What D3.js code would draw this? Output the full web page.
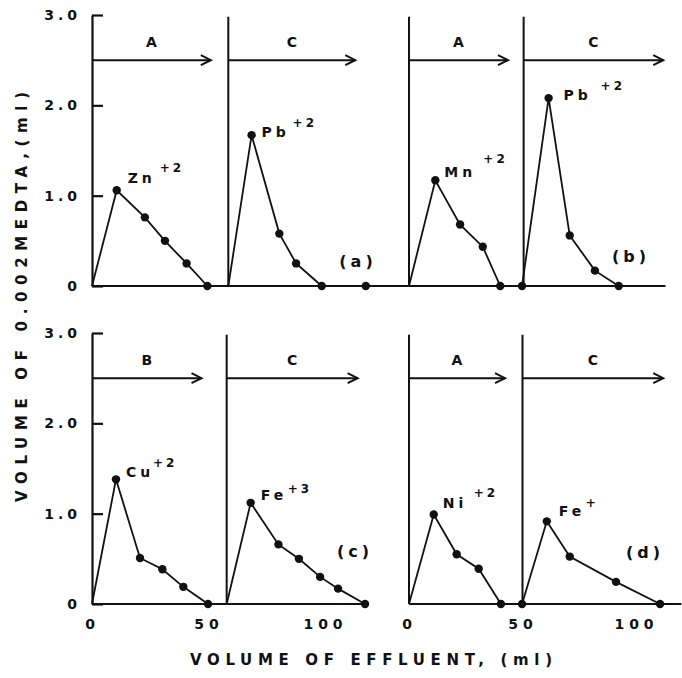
<!DOCTYPE html>
<html>
<head>
<meta charset="utf-8">
<script src="https://cdn.jsdelivr.net/npm/d3@7"></script>
<style>
  body { margin: 0; background: #fff; }
  text { font-family: 'DejaVu Sans', sans-serif; font-weight: bold; fill: #111; }
</style>
</head>
<body>
<div class="chart"></div>
<script>

/** axis ticks */
const yTicks = [0, 1, 2, 3];
const xTicks = [0, 50, 100];

/** eluent bands: [name, start ml, end ml] */
const eluentsA = [['A', 0, 51], ['C', 58.5, 113]];
const eluentsB = [['A', 0, 43.6], ['C', 50.5, 112]];
const eluentsC = [['B', 0, 47], ['C', 57.8, 114]];
const eluentsD = [['A', 0, 42.3], ['C', 50, 112]];

/** elution curves (ml of effluent, ml of 0.002 M EDTA) */
const zn  = { ion: 'Zn', charge: '+2', start: 0,    x: [10.6, 22.7, 31.3, 40.6, 49.5], y: [1.06, 0.76, 0.50, 0.25, 0] };
const pbA = { ion: 'Pb', charge: '+2', start: 58.5, x: [68.5, 80.4, 87.6, 98.6, 117.5], y: [1.67, 0.58, 0.25, 0, 0] };
const mn  = { ion: 'Mn', charge: '+2', start: 0,    x: [11.6, 22.5, 32.5, 40.2], y: [1.17, 0.68, 0.435, 0] };
const pbB = { ion: 'Pb', charge: '+2', start: null, x: [49.8, 61.5, 70.8, 81.9, 92.4], y: [0, 2.08, 0.56, 0.17, 0] };
const cu  = { ion: 'Cu', charge: '+2', start: 0,    x: [10.3, 20.6, 30.2, 39.2, 49.8], y: [1.38, 0.51, 0.385, 0.19, 0] };
const fe3 = { ion: 'Fe', charge: '+3', start: 57.8, x: [68.1, 80, 88.8, 97.9, 105.6, 117.2], y: [1.12, 0.66, 0.50, 0.30, 0.17, 0] };
const ni  = { ion: 'Ni', charge: '+2', start: 0,    x: [10.9, 21, 30.7, 40.5], y: [0.99, 0.55, 0.39, 0] };
const feP = { ion: 'Fe', charge: '+',  start: null, x: [49.8, 60.7, 70.8, 91.2, 110.6], y: [0, 0.915, 0.525, 0.245, 0] };

/** the four panels */
const panels = [
  { tag: '(a)', row: 'top',    col: 'left',  eluents: eluentsA, series: [zn, pbA], axisEnd: 136 },
  { tag: '(b)', row: 'top',    col: 'right', eluents: eluentsB, series: [mn, pbB], axisEnd: 113 },
  { tag: '(c)', row: 'bottom', col: 'left',  eluents: eluentsC, series: [cu, fe3], axisEnd: 118 },
  { tag: '(d)', row: 'bottom', col: 'right', eluents: eluentsD, series: [ni, feP], axisEnd: 120 }
];

/** layout */
const colRange = { left: [92, 325], right: [409, 636] };
const rowRange = { top: [286, 15], bottom: [604, 333] };
const tagPos = [[358, 267], [631, 262], [355, 557], [645, 558]];
// label offsets from the peak point: [ion dx, ion dy, charge dx, charge dy]
const ionOffset = {
  Zn: [11, -7, 43, -18], PbA: [10, 2, 41, -8], Mn: [9, -3, 48, -17], PbB: [15, 2, 52, -8],
  Cu: [10, -2, 37, -12], Fe3: [10, -3, 37, -10], Ni: [9, -7, 40, -18], FeP: [12, -5, 39, -14]
};
const offsetKeys = [['Zn', 'PbA'], ['Mn', 'PbB'], ['Cu', 'Fe3'], ['Ni', 'FeP']];

let width = 682, height = 678;
let svg = d3.select('.chart').append('svg')
    .attr('width', width)
    .attr('height', height);

const ink = '#111';

panels.forEach(function (p, i) {

    let x = d3.scaleLinear().domain([0, 100]).range(colRange[p.col]);
    let y = d3.scaleLinear().domain([0, 3]).range(rowRange[p.row]);
    let g = svg.append('g');

    /** baseline */
    g.append('line')
        .attr('x1', x(0)).attr('x2', x(p.axisEnd))
        .attr('y1', y(0)).attr('y2', y(0))
        .attr('stroke', ink).attr('stroke-width', 2.2);

    /** y axis on the left column, plain divider on the right */
    if (p.col === 'left') {
        let yAxis = g.append('g')
            .attr('transform', 'translate(' + x(0) + ',0)')
            .call(d3.axisLeft(y)
                .tickValues(yTicks)
                .tickSize(-11)
                .tickSizeOuter(0)
                .tickPadding(11)
                .tickFormat(d => d === 0 ? '0' : d.toFixed(1)));
        yAxis.select('.domain').attr('stroke', ink).attr('stroke-width', 2.2);
        yAxis.selectAll('.tick line').attr('stroke', ink).attr('stroke-width', 2.2);
        yAxis.selectAll('.tick text')
            .style('font-size', '14px')
            .style('letter-spacing', '4px')
            .attr('fill', ink);
    } else {
        g.append('line')
            .attr('x1', x(0)).attr('x2', x(0))
            .attr('y1', y(0)).attr('y2', y(2.98))
            .attr('stroke', ink).attr('stroke-width', 2);
    }

    /** divider where the second eluent begins */
    let second = p.eluents[1];
    g.append('line')
        .attr('x1', x(second[1])).attr('x2', x(second[1]))
        .attr('y1', y(0)).attr('y2', y(2.98))
        .attr('stroke', ink).attr('stroke-width', 2);

    /** eluent arrows */
    p.eluents.forEach(function (e) {
        let x0 = x(e[1]), x1 = x(e[2]), ya = y(2.5);
        g.append('line')
            .attr('x1', x0).attr('x2', x1)
            .attr('y1', ya).attr('y2', ya)
            .attr('stroke', ink).attr('stroke-width', 2);
        g.append('path')
            .attr('d', 'M' + (x1 - 10) + ',' + (ya - 5) + 'L' + x1 + ',' + ya + 'L' + (x1 - 10) + ',' + (ya + 5))
            .attr('fill', 'none').attr('stroke', ink).attr('stroke-width', 2);
        g.append('text')
            .attr('x', (x0 + x1) / 2)
            .attr('y', y(2.7) + 5)
            .attr('text-anchor', 'middle')
            .style('font-size', '14px')
            .text(e[0]);
    });

    /** elution curves */
    let line = d3.line().x(d => x(d[0])).y(d => y(d[1]));
    p.series.forEach(function (s, k) {
        let pts = s.x.map((v, j) => [v, s.y[j]]);
        let path = s.start === null ? pts : [[s.start, 0]].concat(pts);
        g.append('path')
            .attr('d', line(path))
            .attr('fill', 'none')
            .attr('stroke', ink)
            .attr('stroke-width', 1.8);
        g.selectAll('.dot' + k)
            .data(pts)
            .enter()
            .append('circle')
            .attr('cx', d => x(d[0]))
            .attr('cy', d => y(d[1]))
            .attr('r', 4.2)
            .attr('fill', ink);

        /** ion label at the peak */
        let peak = pts.reduce((a, b) => b[1] > a[1] ? b : a);
        let off = ionOffset[offsetKeys[i][k]];
        g.append('text')
            .attr('x', x(peak[0]) + off[0])
            .attr('y', y(peak[1]) + off[1])
            .style('font-size', '14px')
            .style('letter-spacing', '4px')
            .text(s.ion);
        g.append('text')
            .attr('x', x(peak[0]) + off[2])
            .attr('y', y(peak[1]) + off[3])
            .style('font-size', '12px')
            .style('letter-spacing', '3px')
            .text(s.charge);
    });

    /** panel tag */
    g.append('text')
        .attr('x', tagPos[i][0])
        .attr('y', tagPos[i][1])
        .attr('text-anchor', 'middle')
        .style('font-size', '16px')
        .style('letter-spacing', '4px')
        .text(p.tag);

    /** x tick labels under the bottom row */
    if (p.row === 'bottom') {
        let xAxis = g.append('g')
            .attr('transform', 'translate(0,' + y(0) + ')')
            .call(d3.axisBottom(x).tickValues(xTicks).tickSize(0).tickPadding(15));
        xAxis.select('.domain').remove();
        xAxis.selectAll('.tick text')
            .style('font-size', '14px')
            .style('letter-spacing', '5px')
            .attr('fill', ink);
    }
});

/** axis titles */
svg.append('text')
    .attr('x', 371)
    .attr('y', 665)
    .attr('text-anchor', 'middle')
    .attr('textLength', 362)
    .attr('lengthAdjust', 'spacing')
    .style('font-size', '15px')
    .text('VOLUME OF EFFLUENT, (ml)');

svg.append('text')
    .attr('transform', 'translate(27,297) rotate(-90)')
    .attr('text-anchor', 'middle')
    .attr('textLength', 410)
    .attr('lengthAdjust', 'spacing')
    .style('font-size', '15px')
    .text('VOLUME OF 0.002MEDTA,(ml)');

</script>
</body>
</html>
